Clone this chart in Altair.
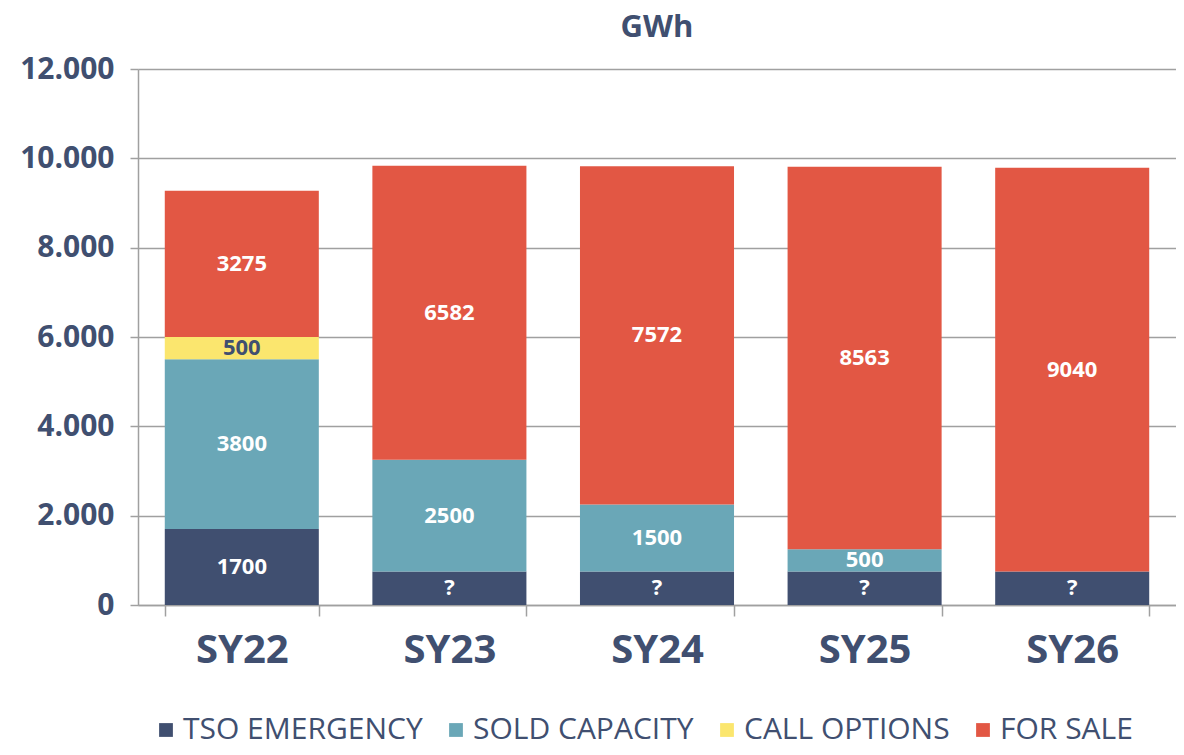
import altair as alt
import pandas as pd

years = ["SY22", "SY23", "SY24", "SY25", "SY26"]
series = ["TSO EMERGENCY", "SOLD CAPACITY", "CALL OPTIONS", "FOR SALE"]
tso = [1700, 750, 750, 750, 750]
tso_labels = ["1700", "?", "?", "?", "?"]
sold = [3800, 2500, 1500, 500, 0]
call = [500, 0, 0, 0, 0]
for_sale = [3275, 6582, 7572, 8563, 9040]
y_ticks = [0, 2000, 4000, 6000, 8000, 10000, 12000]

NAVY = "#404f70"
colors = ["#404f70", "#6aa7b7", "#fbe66e", "#e25744"]

rows = []
for i, yr in enumerate(years):
    vals = [tso[i], sold[i], call[i], for_sale[i]]
    labs = [tso_labels[i], str(sold[i]), str(call[i]), str(for_sale[i])]
    for k, s in enumerate(series):
        if vals[k] > 0:
            rows.append({"year": yr, "series": s, "order": k, "value": vals[k], "label": labs[k]})
df = pd.DataFrame(rows)

FONT = "Open Sans"

base = alt.Chart(df).transform_stack(
    stack="value", groupby=["year"], as_=["y0", "y1"], sort=[alt.SortField("order")]
).transform_calculate(mid="(datum.y0 + datum.y1) / 2")

xenc = alt.X(
    "year:N", sort=years,
    scale=alt.Scale(paddingInner=0.258, paddingOuter=0.129),
    axis=alt.Axis(
        title=None, labelAngle=0, labelFont=FONT, labelFontSize=40, labelFontWeight="bold",
        labelColor=NAVY, labelPadding=14, tickBand="extent", tickSize=11, tickColor="#a0a0a0",
        tickWidth=1.5, domainColor="#a0a0a0", domainWidth=1.5, grid=False,
    ),
)

bars = base.mark_bar().encode(
    x=xenc,
    y=alt.Y(
        "y0:Q",
        scale=alt.Scale(domain=[0, 12000], nice=False),
        axis=alt.Axis(
            title=None, values=y_ticks,
            labelExpr="replace(format(datum.value, ','), ',', '.')",
            labelFont=FONT, labelFontSize=30, labelFontWeight="bold", labelColor=NAVY,
            labelPadding=16, tickSize=8, tickColor="#a0a0a0", tickWidth=1.5,
            domainColor="#a0a0a0", domainWidth=1.5,
            grid=True, gridColor="#a0a0a0", gridWidth=1.5,
        ),
    ),
    y2="y1:Q",
    color=alt.Color(
        "series:N", sort=series,
        scale=alt.Scale(domain=series, range=colors),
        legend=alt.Legend(
            title=None, orient="none", direction="horizontal", legendX=13, legendY=646,
            symbolType="square", symbolSize=190, symbolStrokeWidth=0, symbolOpacity=1,
            labelFont=FONT, labelFontSize=30, labelColor=NAVY, labelOffset=2,
            columnPadding=18, labelLimit=0,
        ),
    ),
    order=alt.Order("order:Q"),
)

texts = base.mark_text(font=FONT, fontSize=22, fontWeight="bold", baseline="middle").encode(
    x=alt.X("year:N", sort=years),
    y=alt.Y("mid:Q"),
    text="label:N",
    color=alt.condition(alt.datum.series == "CALL OPTIONS", alt.value(NAVY), alt.value("white")),
)

chart = alt.layer(bars, texts).properties(
    width=1038, height=536,
    title=alt.TitleParams("GWh", font=FONT, fontSize=31, fontWeight="bold", color=NAVY, offset=10),
    autosize=alt.AutoSizeParams(type="none"),
    padding={"left": 130, "top": 61, "right": 0, "bottom": 142},
).configure_view(stroke=None)

chart.save("out.html", embed_options={"renderer": "svg", "actions": False})
